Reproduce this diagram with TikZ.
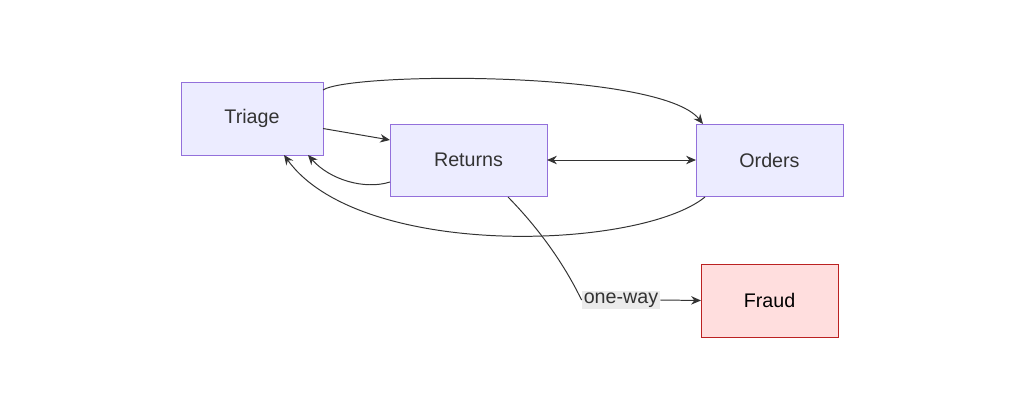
\documentclass[tikz,border=0pt]{standalone}
\usepackage{fontspec}
\setmainfont{Liberation Sans}
\usetikzlibrary{arrows.meta}
\definecolor{boxfill}{HTML}{ECECFF}
\definecolor{boxline}{HTML}{9370DB}
\definecolor{badfill}{HTML}{FFDEDE}
\definecolor{badline}{HTML}{BB2222}
\definecolor{edgecol}{HTML}{333333}
\begin{document}
\begin{tikzpicture}[x=0.025cm,y=-0.025cm,inner sep=0pt,outer sep=0pt,
flowbox/.style={draw=boxline,fill=boxfill,line width=0.6pt,rectangle,font=\fontsize{14pt}{16pt}\selectfont,text=edgecol},
alertbox/.style={flowbox,draw=badline,fill=badfill,text=black},
link/.style={draw=edgecol,line width=0.7pt}]
\tikzset{tip/.tip={Stealth[length=7pt,width=6pt]}}
\fill[white] (0,0) rectangle (1024,414);
\node[flowbox,minimum width=3.55cm,minimum height=1.825cm] (triage) at (252,118.5) {Triage};
\node[flowbox,minimum width=3.925cm,minimum height=1.8cm] (returns) at (468.5,160) {Returns};
\node[flowbox,minimum width=3.675cm,minimum height=1.8cm] (orders) at (769.5,160) {Orders};
\node[alertbox,minimum width=3.425cm,minimum height=1.825cm] (fraud) at (769.5,300.5) {Fraud};
\node[fill=black!8,inner sep=1.5pt,font=\fontsize{14pt}{16pt}\selectfont,text=edgecol] (lbl) at (621,300) {one-way};
\draw[link,-tip] (triage.north east) ++(0,8) coordinate (t1)
  (t1) .. controls (350,72) and (660,70) .. (orders.north west -| 703,124);
\draw[link,-tip] (triage.east) ++(0,10) -- (returns.west |- 0,140);
\draw[link,-tip] (returns.west |- 0,182) .. controls (365,190) and (330,180) .. (308,155);
\draw[link,tip-tip] (returns.east) -- (orders.west);
\draw[link,-tip] (705,197) .. controls (640,250) and (360,260) .. (284,155);
\draw[link] (508,197) .. controls (560,250) and (580,298) .. (lbl.west);
\draw[link,-tip] (lbl.east) -- (fraud.west);
\end{tikzpicture}
\end{document}
